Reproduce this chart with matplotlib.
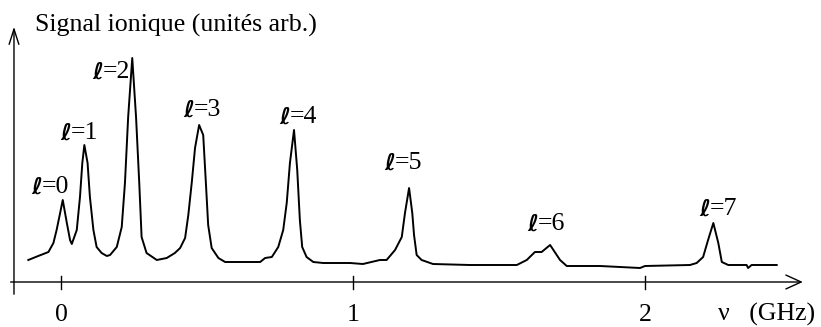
import matplotlib
matplotlib.use("Agg")
import matplotlib.pyplot as plt

# spectrum: frequency (GHz) and ion signal (arb. units)
nu = [-0.112, -0.078, -0.043, -0.026, -0.015, -0.003, 0.006, 0.020, 0.031, 0.037,
      0.054, 0.065, 0.073, 0.080, 0.091, 0.099, 0.111, 0.122, 0.139, 0.157,
      0.168, 0.191, 0.208, 0.219, 0.230, 0.244, 0.257, 0.268, 0.276, 0.293,
      0.328, 0.362, 0.390, 0.408, 0.425, 0.436, 0.448, 0.459, 0.473, 0.487,
      0.496, 0.504, 0.516, 0.539, 0.562, 0.620, 0.682, 0.699, 0.722, 0.744,
      0.761, 0.773, 0.784, 0.798, 0.809, 0.818, 0.826, 0.841, 0.864, 0.898,
      0.990, 1.034, 1.092, 1.115, 1.144, 1.167, 1.178, 1.192, 1.203, 1.209,
      1.218, 1.235, 1.274, 1.400, 1.561, 1.595, 1.623, 1.646, 1.675, 1.709,
      1.732, 1.846, 1.983, 2.000, 2.154, 2.177, 2.199, 2.216, 2.234, 2.251,
      2.263, 2.285, 2.348, 2.353, 2.365, 2.451]
signal = [22, 26, 30, 39, 52, 69, 82, 59, 42, 38,
          52, 85, 119, 137, 119, 85, 52, 35, 29, 26,
          27, 35, 55, 99, 165, 224, 165, 99, 45, 29,
          22, 24, 29, 34, 44, 67, 100, 134, 157, 147,
          100, 57, 34, 24, 20, 20, 20, 24, 25, 35,
          52, 79, 119, 152, 112, 62, 35, 25, 20, 19,
          19, 18, 22, 22, 32, 45, 69, 94, 69, 47,
          27, 22, 18, 17, 17, 22, 30, 30, 37, 22,
          16, 16, 14, 16, 17, 19, 25, 42, 59, 39,
          20, 17, 17, 14, 17, 17]

labels = ["=0", "=1", "=2", "=3", "=4", "=5", "=6", "=7"]
label_nu = [-0.065, 0.034, 0.144, 0.455, 0.784, 1.144, 1.634, 2.223]
label_sig = [95, 149, 210, 172, 165, 119, 58, 73]

ticks = [0, 1, 2]

fig = plt.figure(figsize=(8.21, 3.27), dpi=100)
ax = fig.add_axes([0, 0, 1, 1])
ax.set_xlim(-0.2089, 2.6027)
ax.set_ylim(-45, 282)
ax.axis("off")

serif = ["Liberation Serif", "DejaVu Serif"]
fs = 18.6

ax.plot(nu, signal, color="black", lw=1.4)

# axes with arrows
ax.annotate("", xy=(2.55, 0), xytext=(-0.182, 0),
            arrowprops=dict(arrowstyle="->,head_length=1.1,head_width=0.5", lw=1.0, color="black"))
ax.annotate("", xy=(-0.161, 258), xytext=(-0.161, -15),
            arrowprops=dict(arrowstyle="->,head_length=1.1,head_width=0.35", lw=1.0, color="black"))

for t in ticks:
    ax.plot([t, t], [-7, 6], color="black", lw=1.0)
    ax.text(t, -39, str(t), ha="center", va="baseline", fontsize=fs, family=serif)

ax.text(2.25, -39, "ν   (GHz)", ha="left", va="baseline", fontsize=fs, family=serif)
ax.text(-0.089, 250, "Signal ionique (unités arb.)", ha="left", va="baseline",
        fontsize=fs, family=serif)

for lab, x, y in zip(labels, label_nu, label_sig):
    ax.text(x, y, "ℓ", ha="right", va="center", fontsize=fs - 2,
            family=["DejaVu Sans", "DejaVu Serif"], weight="bold", style="italic")
    ax.text(x, y, lab, ha="left", va="center", fontsize=fs, family=serif)

fig.savefig("out.png", dpi=100)
